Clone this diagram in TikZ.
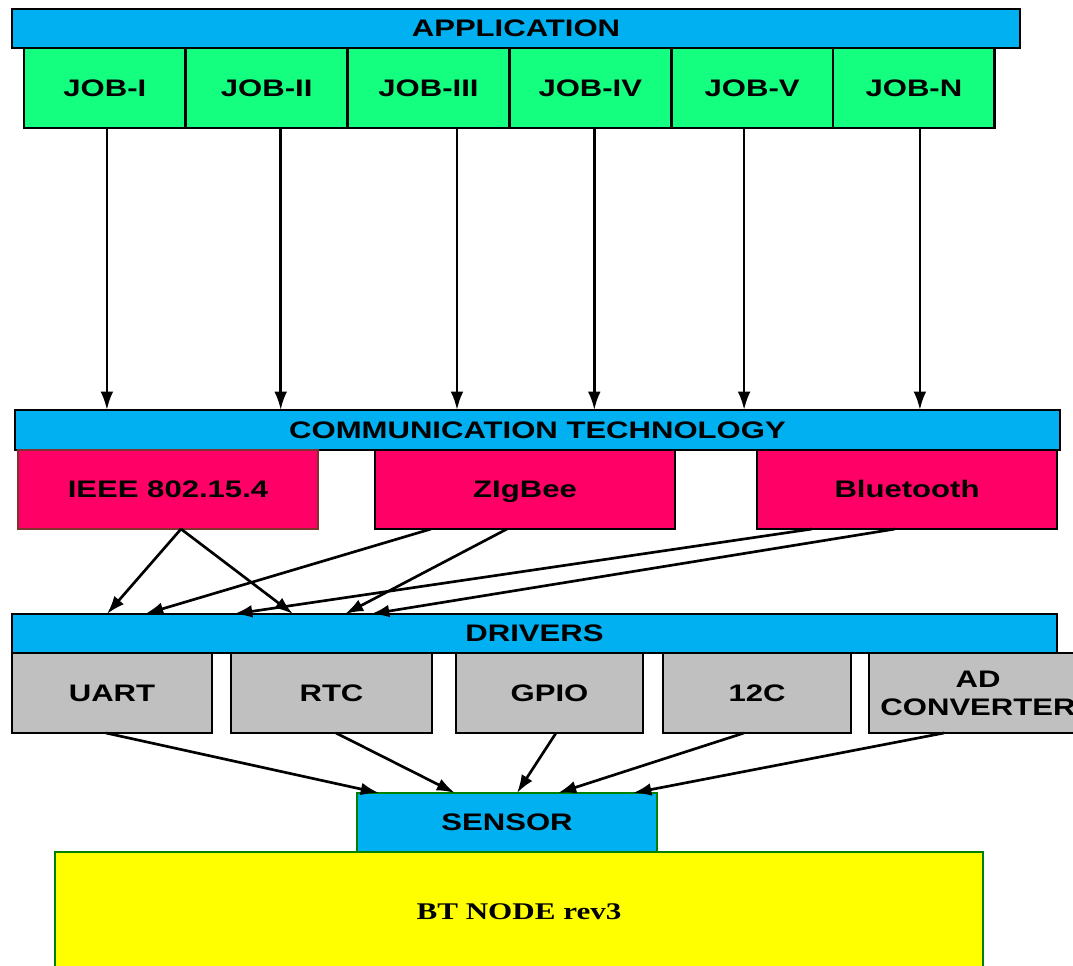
\documentclass[tikz,border=0pt]{standalone}
\usepackage{fontspec}
\newfontfamily\boxfont{Liberation Sans}[FakeStretch=1.3]
\newfontfamily\nodefont{Liberation Serif}[FakeStretch=1.3]
\usetikzlibrary{arrows.meta}

\definecolor{barblue}{RGB}{0,176,240}
\definecolor{jobgreen}{RGB}{20,255,128}
\definecolor{techpink}{RGB}{255,0,102}
\definecolor{drvgray}{RGB}{192,192,192}
\definecolor{nodeyellow}{RGB}{255,255,0}
\definecolor{edgegreen}{RGB}{0,128,0}
\definecolor{edgebrown}{RGB}{128,50,45}

\def\px{0.025cm}	% one pixel of the layout

\begin{document}
\begin{tikzpicture}[x = 0.025cm, y = -0.025cm, > = {Latex[length = 13pt, width = 9pt]},
	box/.style = {draw, line width = 2pt, inner sep = 0pt, outer sep = 0pt, anchor = north west,
		font = \boxfont\bfseries\fontsize{17}{20}\selectfont},
	bar/.style = {box, fill = barblue, minimum height = 39 * \px},
	jobbox/.style = {box, fill = jobgreen, minimum width = 161.8 * \px, minimum height = 80 * \px},
	techbox/.style = {box, fill = techpink, minimum width = 300 * \px, minimum height = 79 * \px,
		text height = 12pt, text depth = 0pt},
	drvbox/.style = {box, fill = drvgray, minimum height = 80 * \px},
	link/.style = {line width = 1.9pt}]

	\useasboundingbox (0, 0) rectangle (1073, 966);

	% Application layer

	\node [bar, minimum width = 1008 * \px] (app) at (12, 9) {APPLICATION};
	\foreach \name [count = \i] in {JOB-I, JOB-II, JOB-III, JOB-IV, JOB-V, JOB-N}
		\node [jobbox] (job\i) at ({24 + 161.8 * (\i - 1)}, 48) {\name};

	% Communication layer

	\node [bar, minimum width = 1045 * \px, minimum height = 40 * \px] (comm) at (15, 410) {COMMUNICATION TECHNOLOGY};
	\node [techbox, draw = edgebrown] (ieee) at (18, 450) {IEEE 802.15.4};
	\node [techbox] (zigbee) at (375, 450) {ZIgBee};
	\node [techbox] (bt) at (757, 450) {Bluetooth};

	% Jobs to communication

	\foreach \i/\dx in {1/2, 2/14, 3/28.5, 4/4, 5/-8, 6/6}
		\draw [link, ->] ([xshift = \dx * \px] job\i.south) -- ([xshift = \dx * \px] job\i.south |- comm.north);

	% Drivers layer

	\node [bar, minimum width = 1045 * \px] (drv) at (12, 614) {DRIVERS};
	\node [drvbox, minimum width = 200 * \px] (uart) at (12, 653) {UART};
	\node [drvbox, minimum width = 201 * \px] (rtc) at (231, 653) {RTC};
	\node [drvbox, minimum width = 187 * \px] (gpio) at (456, 653) {GPIO};
	\node [drvbox, minimum width = 188 * \px] (iic) at (663, 653) {12C};
	\node [drvbox, minimum width = 218 * \px, align = center] (adc) at (869, 653) {AD\\CONVERTER};

	% Communication to drivers

	\draw [link, ->] ([xshift = 13 * \px] ieee.south) -- ([xshift = 95 * \px] drv.north west);
	\draw [link, ->] ([xshift = 13 * \px] ieee.south) -- ([xshift = 281 * \px] drv.north west);
	\draw [link, ->] ([xshift = -94 * \px] zigbee.south) -- ([xshift = 133 * \px] drv.north west);
	\draw [link, ->] ([xshift = -18 * \px] zigbee.south) -- ([xshift = 333 * \px] drv.north west);
	\draw [link, ->] ([xshift = -95 * \px] bt.south) -- ([xshift = 222 * \px] drv.north west);
	\draw [link, ->] ([xshift = -12 * \px] bt.south) -- ([xshift = 359 * \px] drv.north west);

	% Sensor and node

	\node [box, fill = barblue, draw = edgegreen, minimum width = 300 * \px, minimum height = 59 * \px] (sensor) at (357, 793) {SENSOR};
	\node [box, fill = nodeyellow, draw = edgegreen, minimum width = 928 * \px, minimum height = 120 * \px,
		font = \nodefont\bfseries\fontsize{17}{20}\selectfont] (btnode) at (55, 852) {BT NODE rev3};

	% Drivers to sensor

	\foreach \drv/\dx/\ex in {uart/-6/22, rtc/4.5/98, gpio/6.5/160, iic/-13/201, adc/-34/276}
		\draw [link, ->] ([xshift = \dx * \px] \drv.south) -- ([xshift = \ex * \px] sensor.north west);

\end{tikzpicture}
\end{document}
